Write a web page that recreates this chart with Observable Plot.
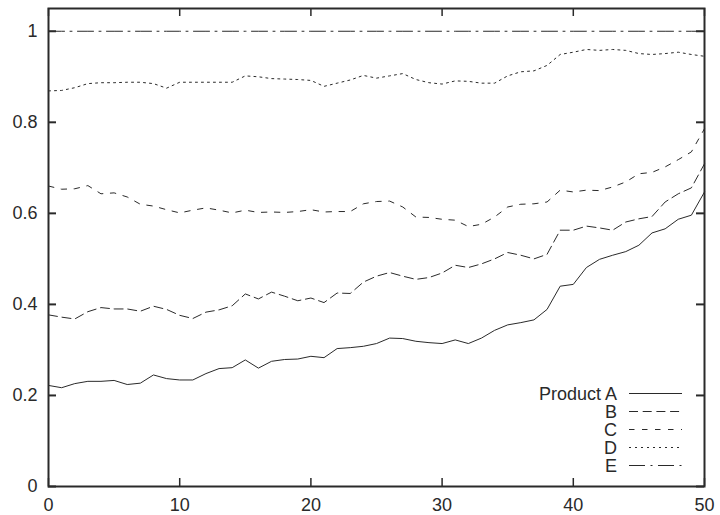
<!DOCTYPE html>
<html>
<head>
<meta charset="utf-8">
<script src="https://cdn.jsdelivr.net/npm/d3@7"></script>
<script src="https://cdn.jsdelivr.net/npm/@observablehq/plot@0.6"></script>
<style>
  html, body { margin: 0; padding: 0; background: #fff; }
  #chart svg { display: block; }
</style>
</head>
<body>
<div id="chart"></div>
<script>
const xs = [0,1,2,3,4,5,6,7,8,9,10,11,12,13,14,15,16,17,18,19,20,21,22,23,24,25,26,27,28,29,30,31,32,33,34,35,36,37,38,39,40,41,42,43,44,45,46,47,48,49,50];

const seriesNames = ["Product A", "B", "C", "D", "E"];

const productA = [0.222,0.217,0.226,0.231,0.231,0.233,0.224,0.227,0.245,0.237,0.234,0.234,0.248,0.259,0.261,0.278,0.26,0.275,0.279,0.28,0.286,0.283,0.303,0.305,0.308,0.314,0.326,0.325,0.319,0.316,0.314,0.322,0.314,0.326,0.343,0.355,0.36,0.366,0.389,0.44,0.444,0.481,0.499,0.508,0.516,0.53,0.557,0.566,0.587,0.596,0.647];
const productB = [0.377,0.372,0.368,0.384,0.393,0.39,0.39,0.385,0.396,0.389,0.376,0.369,0.383,0.388,0.397,0.423,0.412,0.427,0.418,0.408,0.414,0.404,0.425,0.424,0.449,0.462,0.47,0.462,0.455,0.459,0.469,0.486,0.481,0.489,0.5,0.514,0.508,0.5,0.51,0.563,0.563,0.572,0.568,0.563,0.581,0.588,0.593,0.625,0.643,0.656,0.709];
const productC = [0.66,0.653,0.654,0.661,0.643,0.645,0.636,0.62,0.616,0.608,0.601,0.607,0.612,0.607,0.601,0.607,0.602,0.603,0.602,0.604,0.608,0.603,0.604,0.604,0.621,0.626,0.627,0.614,0.592,0.591,0.587,0.585,0.571,0.576,0.592,0.614,0.62,0.621,0.625,0.651,0.647,0.651,0.65,0.658,0.669,0.687,0.69,0.702,0.718,0.735,0.786];
const productD = [0.869,0.87,0.876,0.885,0.887,0.887,0.888,0.888,0.885,0.875,0.888,0.888,0.888,0.888,0.888,0.902,0.9,0.896,0.895,0.894,0.892,0.879,0.886,0.893,0.903,0.897,0.902,0.907,0.894,0.887,0.884,0.891,0.89,0.886,0.886,0.902,0.911,0.913,0.925,0.949,0.954,0.96,0.958,0.96,0.958,0.951,0.949,0.951,0.954,0.949,0.945];
const productE = [1,1,1,1,1,1,1,1,1,1,1,1,1,1,1,1,1,1,1,1,1,1,1,1,1,1,1,1,1,1,1,1,1,1,1,1,1,1,1,1,1,1,1,1,1,1,1,1,1,1,1];

const xTicks = [0, 10, 20, 30, 40, 50];
const yTicks = [0, 0.2, 0.4, 0.6, 0.8, 1];
const yTickLabels = ["0", "0.2", "0.4", "0.6", "0.8", "1"];

const dashes = [null, "9,4.7", "5.5,7.5", "2,4", "16,5.5,2,5.5"];
const valuesBySeries = [productA, productB, productC, productD, productE];

const W = 720, H = 515;
const mL = 48, mR = 16, mT = 8, mB = 29;
const frameW = W - mL - mR, frameH = H - mT - mB;
const tickLen = 8;
const ink = "#2a2a2a";

const lineMarks = valuesBySeries.map((vals, i) => {
  const rows = xs.map((x, j) => ({x, y: vals[j]}));
  return Plot.line(rows, {x: "x", y: "y", stroke: ink, strokeWidth: 1, strokeDasharray: dashes[i]});
});

const chart = Plot.plot({
  width: W,
  height: H,
  marginLeft: mL,
  marginRight: mR,
  marginTop: mT,
  marginBottom: mB,
  style: {fontFamily: "'Liberation Sans', Arial, Helvetica, sans-serif", fontSize: "18px", color: ink, background: "#fff"},
  x: {domain: [0, 50]},
  y: {domain: [0, 1.05]},
  marks: [
    ...lineMarks,
    // inward ticks on all four sides
    Plot.tickX(xTicks, {x: d => d, stroke: ink, strokeWidth: 1.5, insetTop: frameH - tickLen}),
    Plot.tickX(xTicks, {x: d => d, stroke: ink, strokeWidth: 1.5, insetBottom: frameH - tickLen}),
    Plot.tickY(yTicks, {y: d => d, stroke: ink, strokeWidth: 2, insetRight: frameW - tickLen}),
    Plot.tickY(yTicks, {y: d => d, stroke: ink, strokeWidth: 2, insetLeft: frameW - tickLen}),
    Plot.axisX({ticks: xTicks, tickSize: 0, tickPadding: 12, tickFormat: d => String(d), fill: ink, label: null}),
    Plot.axisY({ticks: yTicks, tickSize: 0, tickPadding: 11, tickFormat: (d, i) => yTickLabels[i], fill: ink, label: null}),
    Plot.frame({stroke: ink, strokeWidth: 2})
  ]
});

// legend inside the plot (bottom-right)
const svg = d3.select(chart);
const lg = svg.append("g")
  .attr("font-family", "'Liberation Sans', Arial, Helvetica, sans-serif")
  .attr("font-size", 18);
seriesNames.forEach((name, i) => {
  const cy = 393.5 + 18 * i;
  lg.append("text")
    .attr("x", 617)
    .attr("y", cy)
    .attr("dy", "0.36em")
    .attr("text-anchor", "end")
    .attr("fill", ink)
    .text(name);
  lg.append("line")
    .attr("x1", 629).attr("x2", 682)
    .attr("y1", cy).attr("y2", cy)
    .attr("stroke", ink)
    .attr("stroke-width", 1)
    .attr("stroke-dasharray", dashes[i]);
});

document.getElementById("chart").appendChild(chart);
</script>
</body>
</html>
